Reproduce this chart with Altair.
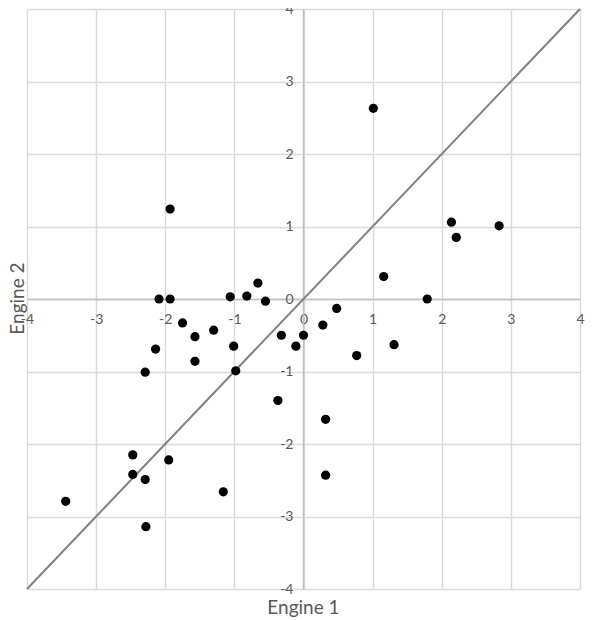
import altair as alt
import pandas as pd

engine1 = [-1.93, 1.01, 2.14, 2.21, 2.83, 1.16, 1.79, -2.09, -1.93, -1.06,
           -0.82, -0.66, -0.55, -1.75, -1.30, -1.57, -2.14, -1.57, -1.01, -0.98,
           -2.29, -0.32, -0.11, 0.00, 0.28, 0.48, 0.77, 1.31, -0.37, 0.32,
           0.32, -2.47, -1.95, -2.47, -2.29, -1.16, -3.44, -2.28]
engine2 = [1.24, 2.63, 1.06, 0.85, 1.01, 0.31, 0.00, 0.00, 0.00, 0.03,
           0.04, 0.22, -0.03, -0.33, -0.43, -0.52, -0.69, -0.86, -0.65, -0.99,
           -1.01, -0.50, -0.65, -0.50, -0.36, -0.13, -0.78, -0.63, -1.40, -1.66,
           -2.43, -2.15, -2.22, -2.42, -2.49, -2.66, -2.79, -3.14]
diag = [-4, 4]
ticks = [-4, -3, -2, -1, 0, 1, 2, 3, 4]

pts = pd.DataFrame({"Engine 1": engine1, "Engine 2": engine2})
line_df = pd.DataFrame({"Engine 1": diag, "Engine 2": diag})

W, H = 553, 580
gray = "#595959"
font = "Lato"

xs = alt.Scale(domain=[-4, 4], nice=False, zero=False)
ys = alt.Scale(domain=[-4, 4], nice=False, zero=False)

xaxis = alt.Axis(values=ticks, offset=-290, grid=True, gridColor="#d9d9d9", gridWidth=1.4,
                 domainColor="#bfbfbf", domainWidth=1.5, ticks=False,
                 labelColor=gray, labelFont=font, labelFontSize=14, labelPadding=13,
                 labelFlush=False, labelOverlap=False, labelExpr="'' + datum.value",
                 title="Engine 1", titleColor=gray, titleFont=font, titleFontSize=19,
                 titleFontWeight="normal", titleX=276, titleY=308, titleBaseline="middle",
                 titleAlign="center")
yaxis = alt.Axis(values=ticks, offset=-276, grid=True, gridColor="#d9d9d9", gridWidth=1.4,
                 domainColor="#bfbfbf", domainWidth=1.5, ticks=False,
                 labelColor=gray, labelFont=font, labelFontSize=14, labelPadding=10,
                 labelFlush=False, labelOverlap=False, labelExpr="'' + datum.value",
                 title="Engine 2", titleColor=gray, titleFont=font, titleFontSize=19,
                 titleFontWeight="normal", titleX=-286, titleY=289, titleAngle=270,
                 titleBaseline="middle", titleAlign="center")

diag_line = alt.Chart(line_df).mark_line(color="#808080", strokeWidth=2).encode(
    x=alt.X("Engine 1:Q", scale=xs, axis=xaxis),
    y=alt.Y("Engine 2:Q", scale=ys, axis=yaxis),
)
points = alt.Chart(pts).mark_point(filled=True, shape="circle", size=85, color="black", opacity=1).encode(
    x=alt.X("Engine 1:Q", scale=xs),
    y=alt.Y("Engine 2:Q", scale=ys),
)

chart = alt.layer(diag_line, points).properties(
    width=W, height=H,
    autosize=alt.AutoSizeParams(type="none"),
    padding={"left": 19, "top": 1, "right": 10, "bottom": 30},
    background="white",
).configure_view(strokeWidth=0)

chart.save("out.html", embed_options={"renderer": "svg", "actions": False})
